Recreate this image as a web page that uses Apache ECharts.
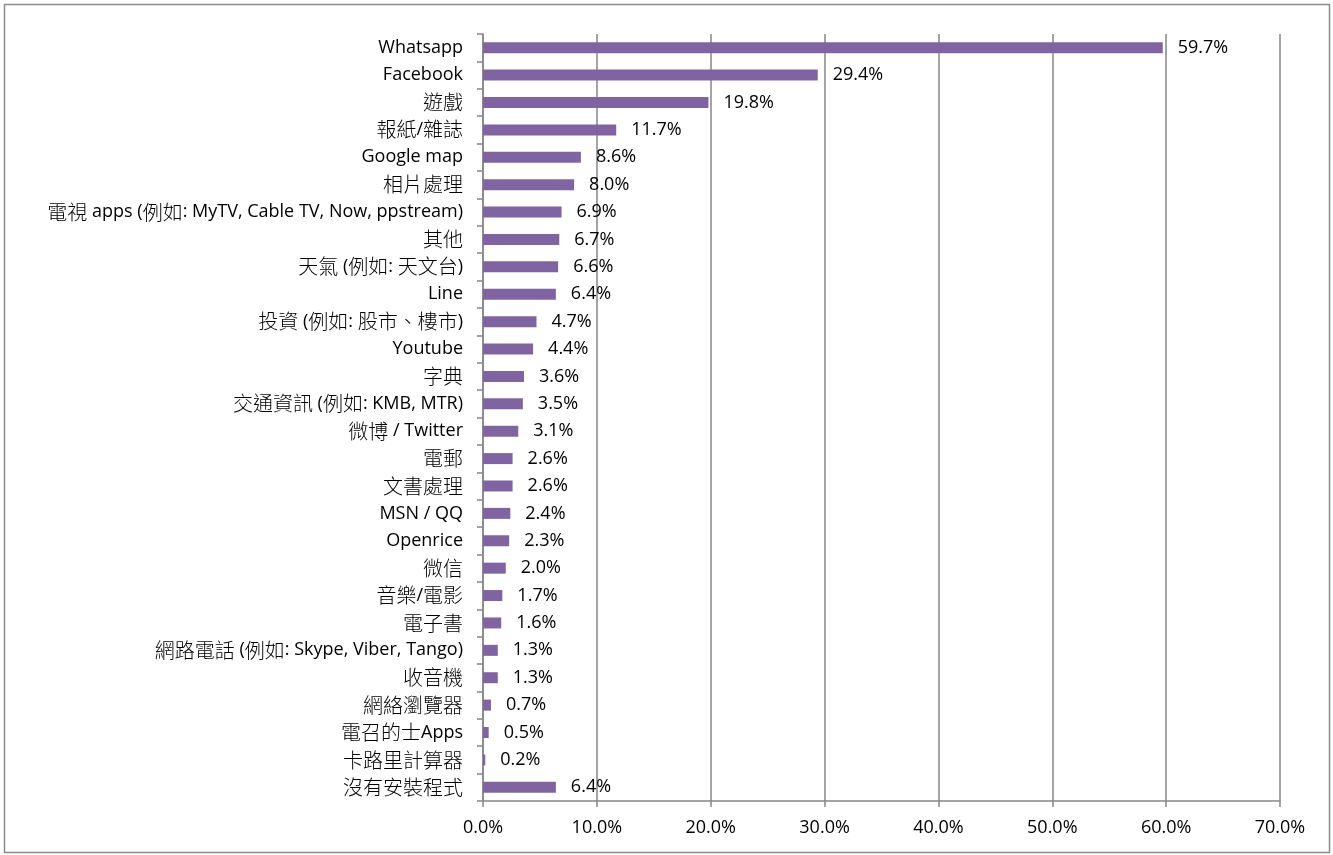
<!DOCTYPE html>
<html>
<head>
<meta charset="utf-8">
<script src="https://cdn.jsdelivr.net/npm/echarts@6/dist/echarts.min.js"></script>
<style>
  html, body { margin: 0; padding: 0; background: #fff; }
  #main { width: 1333px; height: 855px; }
</style>
</head>
<body>
<div id="main"></div>
<script>
// categories, top to bottom
const apps = [
  "Whatsapp", "Facebook", "遊戲", "報紙/雜誌", "Google map", "相片處理",
  "電視 apps (例如: MyTV, Cable TV, Now, ppstream)", "其他", "天氣 (例如: 天文台)",
  "Line", "投資 (例如: 股市、樓市)", "Youtube", "字典", "交通資訊 (例如: KMB, MTR)",
  "微博 / Twitter", "電郵", "文書處理", "MSN / QQ", "Openrice", "微信", "音樂/電影",
  "電子書", "網路電話 (例如: Skype, Viber, Tango)", "收音機", "網絡瀏覽器",
  "電召的士Apps", "卡路里計算器", "沒有安裝程式"
];
const shares = [
  59.7, 29.4, 19.8, 11.7, 8.6, 8.0, 6.9, 6.7, 6.6, 6.4, 4.7, 4.4, 3.6, 3.5,
  3.1, 2.6, 2.6, 2.4, 2.3, 2.0, 1.7, 1.6, 1.3, 1.3, 0.7, 0.5, 0.2, 6.4
];

const font = "'Open Sans', 'Noto Sans CJK TC', sans-serif";
const cjkFont = "'Noto Sans CJK TC', sans-serif";

// CJK glyphs in the original are drawn larger than the Latin text
function splitRuns(s) {
  return s.replace(/[\u3000-\u9fff]+|[^\u3000-\u9fff]+/g, part =>
    /[\u3000-\u9fff]/.test(part) ? "{c|" + part + "}" : "{l|" + part + "}");
}

const chart = echarts.init(document.getElementById("main"));

chart.setOption({
  animation: false,
  graphic: [{
    type: "rect",
    shape: { x: 4.5, y: 4.5, width: 1325, height: 848 },
    style: { fill: "none", stroke: "#8c8c8c", lineWidth: 1.5 },
    silent: true
  }],
  grid: { left: 483, right: 53, top: 34, bottom: 54, containLabel: false },
  xAxis: {
    type: "value",
    min: 0,
    max: 70,
    interval: 10,
    axisLine: { show: true, lineStyle: { color: "#868686", width: 1.5 } },
    axisTick: { show: true, length: 6, lineStyle: { color: "#868686", width: 1.5 } },
    splitLine: { show: true, lineStyle: { color: "#868686", width: 1.5 } },
    axisLabel: {
      formatter: v => v.toFixed(1) + "%",
      color: "#000",
      fontSize: 18,
      fontFamily: font,
      margin: 18
    }
  },
  yAxis: {
    type: "category",
    data: apps,
    inverse: true,
    axisLine: { show: true, lineStyle: { color: "#868686", width: 1.5 } },
    axisTick: { show: true, length: 6, lineStyle: { color: "#868686", width: 1.5 } },
    axisLabel: {
      formatter: v => splitRuns(v),
      margin: 20,
      rich: {
        l: { color: "#000", fontSize: 18, fontFamily: font, lineHeight: 22 },
        c: { color: "#000", fontSize: 20, fontFamily: cjkFont, fontWeight: 300, lineHeight: 22 }
      }
    }
  },
  series: [{
    type: "bar",
    data: shares,
    barWidth: 11,
    itemStyle: { color: "#8064A2" },
    label: {
      show: true,
      position: "right",
      distance: 15,
      formatter: p => p.value.toFixed(1) + "%",
      color: "#000",
      fontSize: 18,
      fontFamily: font
    }
  }]
});
</script>
</body>
</html>
